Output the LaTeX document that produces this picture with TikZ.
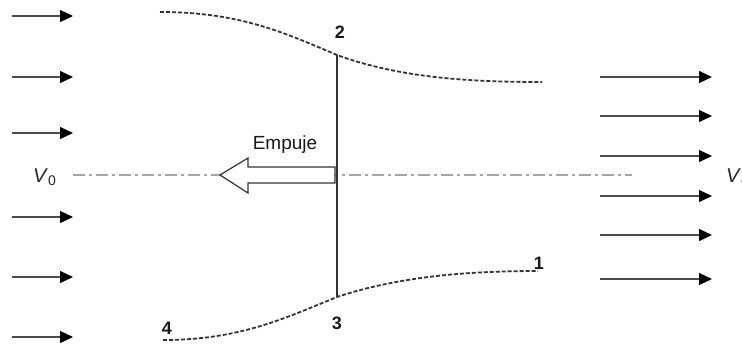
\documentclass[tikz,border=0pt]{standalone}
\usepackage{fontspec}
\setmainfont{Liberation Sans}
\usetikzlibrary{arrows.meta}
\begin{document}
\begin{tikzpicture}[x=1pt,y=-1pt,
  flow/.style={draw=black!70,line width=1.2pt,-{Triangle[length=13pt,width=12pt,color=black]}},
  stream/.style={draw=black!80,line width=1.8pt,dash pattern=on 4pt off 2pt},
  axis/.style={draw=black!35,line width=2pt,dash pattern=on 12pt off 4pt on 3pt off 4pt},
  disk/.style={draw=black!80,line width=1.4pt},
  thrust/.style={draw=black!80,line width=1.2pt,fill=white,line join=miter},
  lbl/.style={font=\fontsize{18}{20}\selectfont\bfseries,text=black!90,inner sep=0pt},
  vlbl/.style={font=\fontsize{20}{22}\selectfont,text=black!85,inner sep=0pt}]
\clip (0,0) rectangle (742,349);
\useasboundingbox (0,0) rectangle (742,349);
% left arrows
\foreach \i/\y in {a/16,b/77,c/133,d/217,e/277,f/337}{
  \coordinate (L\i s) at (12,\y);
  \coordinate (L\i e) at (73,\y);
  \draw[flow] (L\i s) -- (L\i e);
}
% right arrows
\foreach \i/\y in {a/77,b/116,c/156,d/196,e/235,f/279}{
  \coordinate (R\i s) at (600,\y);
  \coordinate (R\i e) at (712,\y);
  \draw[flow] (R\i s) -- (R\i e);
}
% axis
\coordinate (axL) at (73,175);
\coordinate (axR) at (632,175);
\draw[axis] (axL) -- (axR);
% streamlines
\coordinate (p2) at (337,55);
\coordinate (p3) at (337,297);
\coordinate (u0) at (160,12);
\coordinate (u1) at (542,82);
\coordinate (l0) at (163,340);
\coordinate (l1) at (538,271);
\draw[stream] (u0) .. controls (240,12) and (285,33) .. (p2)
  .. controls (400,78) and (470,82) .. (u1);
\draw[stream] (l0) .. controls (240,340) and (285,318) .. (p3)
  .. controls (400,276) and (470,271) .. (l1);
% disk
\draw[disk] (p2) -- (p3);
% thrust arrow
\draw[thrust] (220,175) -- (248,158) -- (248,167) -- (335,167) -- (335,183)
  -- (248,183) -- (248,193) -- cycle;
\node[font=\fontsize{19}{21}\selectfont,text=black!90,inner sep=0pt] (emp) at (285,145) {Empuje};
% labels
\node[lbl] (n2) at (340,32) {2};
\node[lbl] (n3) at (337,323) {3};
\node[lbl] (n1) at (539,263) {1};
\node[lbl] (n4) at (167,328) {4};
\node[vlbl,anchor=west] (v0) at (33,177) {\textit{V}\textsubscript{0}};
\node[vlbl,anchor=west] (ve) at (726,177) {\textit{V}\textsubscript{e}};
\end{tikzpicture}
\end{document}
